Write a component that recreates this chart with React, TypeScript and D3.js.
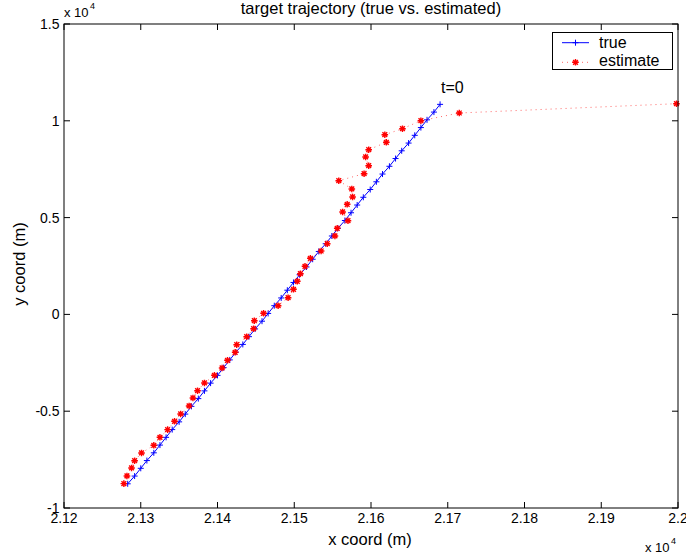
import React from "react";
import * as d3 from "d3";

const trueX = [21690, 21682, 21673, 21665, 21657, 21649, 21640, 21632, 21624, 21615, 21607, 21599, 21590, 21582, 21574, 21566, 21557, 21549, 21541, 21532, 21524, 21516, 21507, 21499, 21491, 21483, 21474, 21466, 21458, 21449, 21441, 21433, 21424, 21416, 21408, 21400, 21391, 21383, 21375, 21366, 21358, 21350, 21341, 21333, 21325, 21317, 21308, 21300, 21292, 21283];
const trueY = [10850, 10450, 10050, 9650, 9250, 8850, 8450, 8050, 7650, 7250, 6850, 6450, 6050, 5650, 5250, 4850, 4450, 4050, 3650, 3250, 2850, 2450, 2050, 1650, 1250, 850, 450, 50, -350, -750, -1150, -1550, -1950, -2350, -2750, -3150, -3550, -3950, -4350, -4750, -5150, -5550, -5950, -6350, -6750, -7150, -7550, -7950, -8350, -8750];
const estX = [21998, 21715, 21665, 21641, 21618, 21620, 21597, 21593, 21597, 21591, 21558, 21575, 21576, 21569, 21563, 21570, 21556, 21553, 21543, 21535, 21521, 21514, 21508, 21504, 21499, 21492, 21479, 21460, 21448, 21447, 21438, 21425, 21423, 21413, 21406, 21396, 21383, 21374, 21368, 21363, 21352, 21344, 21335, 21325, 21317, 21301, 21292, 21288, 21282, 21278];
const estY = [10883, 10403, 10005, 9592, 9282, 8890, 8508, 8131, 7681, 7268, 6906, 6478, 6065, 5688, 5290, 4840, 4448, 4050, 3652, 3275, 2898, 2485, 2103, 1710, 1297, 863, 450, 58, -325, -738, -1151, -1564, -1957, -2370, -2768, -3145, -3542, -3940, -4317, -4730, -5144, -5521, -5954, -6347, -6760, -7158, -7556, -7933, -8346, -8743];

const xTicks = [21200, 21300, 21400, 21500, 21600, 21700, 21800, 21900, 22000];
const xTickLabels = ["2.12", "2.13", "2.14", "2.15", "2.16", "2.17", "2.18", "2.19", "2.2"];
const yTicks = [-10000, -5000, 0, 5000, 10000, 15000];
const yTickLabels = ["-1", "-0.5", "0", "0.5", "1", "1.5"];
const seriesNames = ["true", "estimate"];

const FONT = "'Liberation Sans', Arial, Helvetica, sans-serif";

function plusPath(cx: number, cy: number, r: number) {
  return `M${cx - r},${cy}H${cx + r}M${cx},${cy - r}V${cy + r}`;
}
function starPath(cx: number, cy: number, r: number) {
  const d = r * 0.72;
  return (
    `M${cx - r},${cy}H${cx + r}M${cx},${cy - r}V${cy + r}` +
    `M${cx - d},${cy - d}L${cx + d},${cy + d}M${cx - d},${cy + d}L${cx + d},${cy - d}`
  );
}

export default function App() {
  const W = 686;
  const H = 557;
  const L = 64, T = 24, R = 678, B = 508;
  const x = d3.scaleLinear().domain([21200, 22000]).range([L, R]);
  const y = d3.scaleLinear().domain([-10000, 15000]).range([B, T]);
  const idx = d3.range(trueX.length);
  const trueLine = d3.line<number>().x((i) => x(trueX[i])).y((i) => y(trueY[i]))(idx) || "";
  const estIdx = d3.range(estX.length);
  const estLine = d3.line<number>().x((i) => x(estX[i])).y((i) => y(estY[i]))(estIdx) || "";
  const tick = 6;

  return (
    <svg
      width={W}
      height={H}
      style={{ position: "absolute", left: 0, top: 0, background: "#fff" }}
      fontFamily={FONT}
    >
      <rect x={0} y={0} width={W} height={H} fill="#fff" />
      {/* ticks */}
      {xTicks.map((t, i) => (
        <g key={"xt" + i}>
          <line x1={x(t)} x2={x(t)} y1={B} y2={B - tick} stroke="#000" />
          <line x1={x(t)} x2={x(t)} y1={T} y2={T + tick} stroke="#000" />
          <text x={x(t)} y={523} fontSize={14} textAnchor="middle" fill="#000">
            {xTickLabels[i]}
          </text>
        </g>
      ))}
      {yTicks.map((t, i) => (
        <g key={"yt" + i}>
          <line x1={L} x2={L + tick} y1={y(t)} y2={y(t)} stroke="#000" />
          <line x1={R} x2={R - tick} y1={y(t)} y2={y(t)} stroke="#000" />
          <text x={59.5} y={y(t) + 5} fontSize={14} textAnchor="end" fill="#000">
            {yTickLabels[i]}
          </text>
        </g>
      ))}
      {/* data */}
      <path d={trueLine} fill="none" stroke="#0000ff" strokeWidth={1} />
      {idx.map((i) => (
        <path key={"tp" + i} d={plusPath(x(trueX[i]), y(trueY[i]), 3)} stroke="#0000ff" strokeWidth={1} fill="none" />
      ))}
      <path d={estLine} fill="none" stroke="#ff0000" strokeWidth={1} strokeDasharray="1 4" opacity={0.6} />
      {estIdx.map((i) => (
        <path key={"ep" + i} d={starPath(x(estX[i]), y(estY[i]), 3.3)} stroke="#ff0000" strokeWidth={1.4} fill="none" />
      ))}
      {/* axes box */}
      <rect x={L} y={T} width={R - L} height={B - T} fill="none" stroke="#000" strokeWidth={1} />
      {/* exponent labels */}
      <text x={64} y={17} fontSize={13} fill="#000">x 10</text>
      <text x={90} y={9} fontSize={9} fill="#000">4</text>
      <text x={645} y={552} fontSize={13} fill="#000">x 10</text>
      <text x={671} y={544} fontSize={9} fill="#000">4</text>
      {/* annotation */}
      <text x={441} y={93} fontSize={16} fill="#000">t=0</text>
      {/* title & labels */}
      <text x={371} y={13.5} fontSize={16.5} textAnchor="middle" fill="#000">
        target trajectory (true vs. estimated)
      </text>
      <text x={370} y={545} fontSize={16.5} textAnchor="middle" fill="#000">
        x coord (m)
      </text>
      <text
        transform={`translate(25,264) rotate(-90)`}
        fontSize={16.5}
        textAnchor="middle"
        fill="#000"
      >
        y coord (m)
      </text>
      {/* legend */}
      <rect x={552.5} y={32.5} width={120} height={37} fill="#fff" stroke="#000" strokeWidth={1} />
      <line x1={562} x2={589} y1={42.7} y2={42.7} stroke="#0000ff" strokeWidth={1} />
      <path d={plusPath(575.5, 42.7, 3)} stroke="#0000ff" strokeWidth={1} />
      <text x={599} y={47.5} fontSize={16} fill="#000">{seriesNames[0]}</text>
      <line x1={562} x2={589} y1={62.3} y2={62.3} stroke="#ff0000" strokeWidth={1} strokeDasharray="1 4" opacity={0.6} />
      <path d={starPath(575.5, 62.3, 3.3)} stroke="#ff0000" strokeWidth={1.4} fill="none" />
      <text x={599} y={66} fontSize={16} fill="#000">{seriesNames[1]}</text>
    </svg>
  );
}
